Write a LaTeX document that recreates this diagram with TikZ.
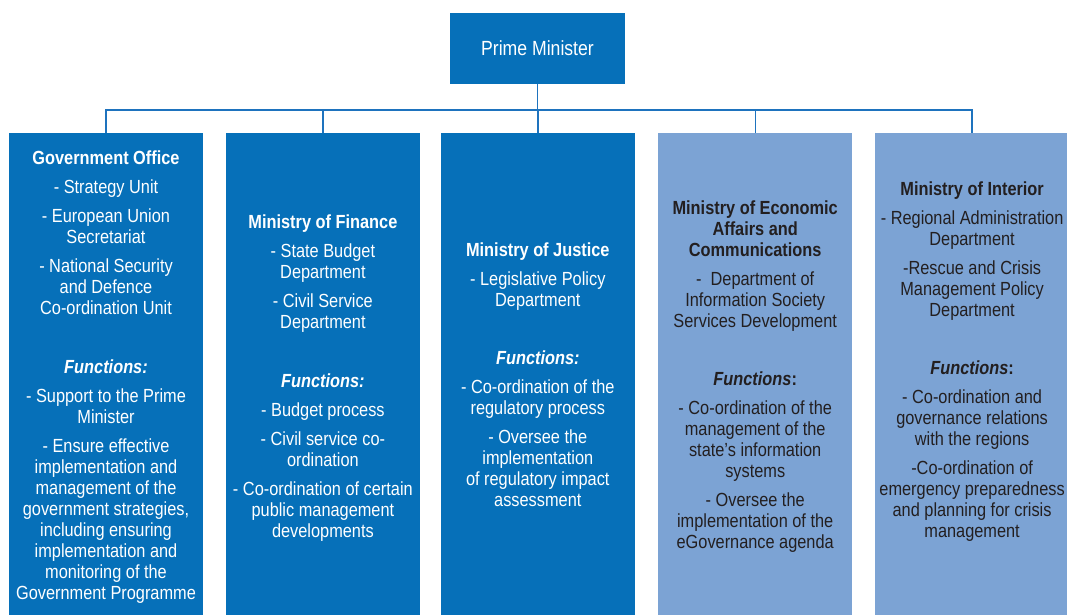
\documentclass[tikz,border=0pt]{standalone}
\usepackage{fontspec}
\setmainfont[FakeStretch=0.86]{Liberation Sans}
\usetikzlibrary{positioning}
\definecolor{darkbox}{RGB}{6,112,185}
\definecolor{lightbox}{RGB}{124,163,212}
\definecolor{linkblue}{RGB}{30,115,190}
\definecolor{inktext}{RGB}{35,31,32}

\begin{document}
\begin{tikzpicture}[x=1pt, y=-1pt,
                    box/.style={rectangle, minimum width=193.5pt, minimum height=482pt, inner sep=0pt},
                    dark box/.style={box, fill=darkbox},
                    light box/.style={box, fill=lightbox},
                    box text/.style={anchor=north, inner sep=0pt, align=center, font=\fontsize{19}{21}\selectfont},
                    link/.style={draw=linkblue, line width=1.4pt}]
    \useasboundingbox (0,0) rectangle (1067,615);

    \node[fill=darkbox, minimum width=175pt, minimum height=71pt, inner sep=0pt,
          text=white, font=\fontsize{20.5}{22}\selectfont] (pm) at (537.5,48.5) {Prime Minister};

    \node[dark box] (gov) at (106,374) {};
    \node[dark box] (fin) [right=23pt of gov] {};
    \node[dark box] (jus) [right=21pt of fin] {};
    \node[light box] (eco) [right=23.5pt of jus] {};
    \node[light box] (int) [right=23pt of eco] {};

    \coordinate (bus) at (537.5,110);

    \draw[link] (pm.south) -- (pm.south |- bus);
    \draw[link] (gov.north) -- (gov.north |- bus) -- (int.north |- bus) -- (int.north);
    \draw[link] (fin.north) -- (fin.north |- bus);
    \draw[link] (jus.north) -- (jus.north |- bus);
    \draw[link] (eco.north) -- (eco.north |- bus);

    \node[box text, text=white] (govtext) at (gov.center |- 0,150.5) {
        \textbf{Government Office}\\[8pt]
        - Strategy Unit\\[8pt]
        - European Union\\ Secretariat\\[8pt]
        - National Security\\ and Defence\\ Co-ordination Unit\\[38pt]
        \textbf{\textit{Functions:}}\\[8pt]
        - Support to the Prime\\ Minister\\[8pt]
        - Ensure effective\\ implementation and\\ management of the\\ government strategies,\\
        including ensuring\\ implementation and\\ monitoring of the\\ Government Programme};
    \node[box text, text=white] (fintext) at (fin.center |- 0,214.5) {
        \textbf{Ministry of Finance}\\[8pt]
        - State Budget\\ Department\\[8pt]
        - Civil Service\\ Department\\[38pt]
        \textbf{\textit{Functions:}}\\[8pt]
        - Budget process\\[8pt]
        - Civil service co-\\ ordination\\[8pt]
        - Co-ordination of certain\\ public management\\ developments};
    \node[box text, text=white] (justext) at (jus.center |- 0,242.5) {
        \textbf{Ministry of Justice}\\[8pt]
        - Legislative Policy\\ Department\\[37pt]
        \textbf{\textit{Functions:}}\\[8pt]
        - Co-ordination of the\\ regulatory process\\[8pt]
        - Oversee the\\ implementation\\ of regulatory impact\\ assessment};
    \node[box text, text=inktext] (ecotext) at (eco.center |- 0,200.5) {
        \textbf{Ministry of Economic}\\ \textbf{Affairs and}\\ \textbf{Communications}\\[8pt]
        -\ \ Department of\\ Information Society\\ Services Development\\[37pt]
        \textbf{\textit{Functions}:}\\[8pt]
        - Co-ordination of the\\ management of the\\ state’s information\\ systems\\[8pt]
        - Oversee the\\ implementation of the\\ eGovernance agenda};
    \node[box text, text=inktext] (inttext) at (int.center |- 0,181.5) {
        \textbf{Ministry of Interior}\\[8pt]
        - Regional Administration\\ Department\\[8pt]
        -Rescue and Crisis\\ Management Policy\\ Department\\[37pt]
        \textbf{\textit{Functions}:}\\[8pt]
        - Co-ordination and\\ governance relations\\ with the regions\\[8pt]
        -Co-ordination of\\ emergency preparedness\\ and planning for crisis\\ management};
\end{tikzpicture}
\end{document}
